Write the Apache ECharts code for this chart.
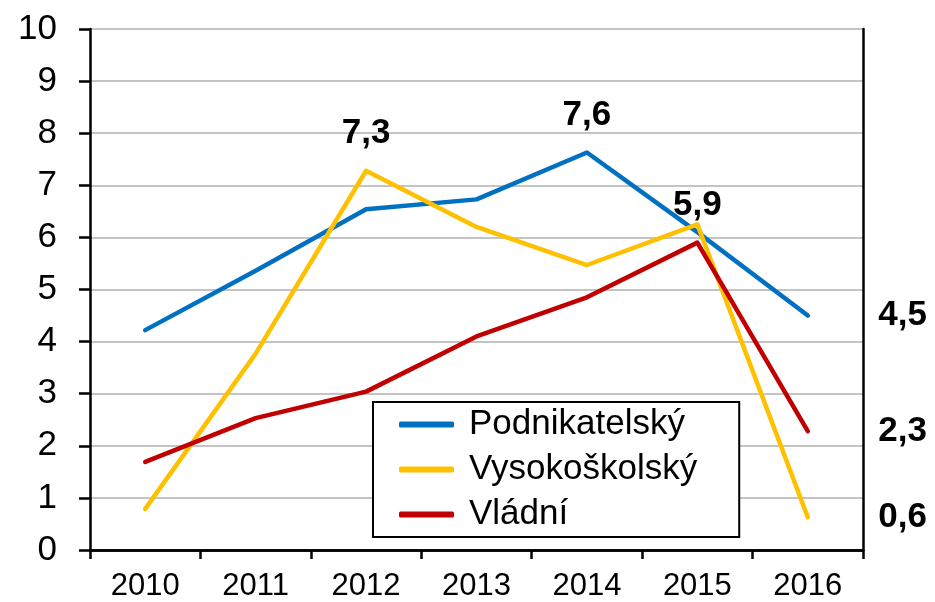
<!DOCTYPE html>
<html lang="cs">
<head>
  <meta charset="UTF-8" />
  <title>Podnikatelský, vysokoškolský a vládní sektor</title>
  <script src="https://cdn.jsdelivr.net/npm/echarts@6.0.0/dist/echarts.min.js"></script>
  <style>
    html, body { margin: 0; padding: 0; background: #fff; }
    #chart { width: 935px; height: 602px; }
  </style>
</head>
<body>
  <div id="chart"></div>
  <script>
    // data
    const years = ['2010', '2011', '2012', '2013', '2014', '2015', '2016'];
    const podnikatelsky = [4.22, 5.36, 6.54, 6.73, 7.63, 6.1, 4.5];
    const vysokoskolsky = [0.79, 3.77, 7.28, 6.2, 5.47, 6.25, 0.63];
    const vladni = [1.69, 2.53, 3.04, 4.1, 4.85, 5.9, 2.28];
    // which points carry a value label
    const labeledPodnik = [4, 6];
    const labeledVysoko = [2, 6];
    const labeledVladni = [5, 6];

    const font = '"Liberation Sans", Arial, sans-serif';
    const chart = echarts.init(document.getElementById('chart'));

    function fmt(v) {
      return v.toFixed(1).replace('.', ',');
    }

    function buildData(values, labeled) {
      return values.map(function (v, i) {
        if (labeled.indexOf(i) < 0) return v;
        const last = i === values.length - 1;
        return {
          value: v,
          label: {
            show: true,
            position: last ? 'right' : 'top',
            distance: last ? 70 : 19,
            formatter: function (p) { return fmt(p.value); },
            color: '#000',
            fontFamily: font,
            fontWeight: 'bold',
            fontSize: 35
          }
        };
      });
    }

    function lineSeries(name, color, values, labeled) {
      return {
        name: name,
        type: 'line',
        data: buildData(values, labeled),
        symbol: 'circle',
        symbolSize: 1,
        showSymbol: true,
        itemStyle: { color: color },
        lineStyle: { color: color, width: 4.5, cap: 'round', join: 'round' },
        label: { show: false },
        emphasis: { disabled: true },
        animation: false
      };
    }

    const blackLine = { color: '#000', width: 2.5 };

    const option = {
      backgroundColor: '#fff',
      grid: { left: 90, right: 72, top: 29, bottom: 52 },
      legend: {
        left: 373,
        top: 402,
        orient: 'vertical',
        data: ['Podnikatelský', 'Vysokoškolský', 'Vládní'],
        icon: 'roundRect',
        itemWidth: 55,
        itemHeight: 6,
        itemGap: 10,
        padding: [5, 42, 5, 26],
        borderColor: '#000',
        borderWidth: 2,
        backgroundColor: '#fff',
        textStyle: {
          fontFamily: font,
          fontSize: 35,
          lineHeight: 34,
          color: '#000',
          padding: [0, 0, 0, 10]
        }
      },
      xAxis: [
        {
          type: 'category',
          data: years,
          boundaryGap: true,
          z: 5,
          axisLine: { lineStyle: blackLine },
          axisTick: { show: true, length: 9, lineStyle: blackLine },
          axisLabel: { fontFamily: font, fontSize: 31, color: '#000', margin: 21 },
          splitLine: { show: false }
        },
        {
          // top border of the plot area
          type: 'category',
          data: years,
          position: 'top',
          z: 5,
          axisLine: { lineStyle: blackLine },
          axisTick: { show: false },
          axisLabel: { show: false },
          splitLine: { show: false }
        }
      ],
      yAxis: [
        {
          type: 'value',
          min: 0,
          max: 10,
          interval: 1,
          axisLine: { show: true, lineStyle: blackLine },
          axisTick: { show: true, length: 11, lineStyle: blackLine },
          axisLabel: { fontFamily: font, fontSize: 35, color: '#000', margin: 33 },
          splitLine: { lineStyle: { color: '#c4c4c4', width: 2 } }
        },
        {
          // right border of the plot area
          type: 'value',
          min: 0,
          max: 10,
          interval: 1,
          position: 'right',
          z: 5,
          axisLine: { show: true, lineStyle: blackLine },
          axisTick: { show: false },
          axisLabel: { show: false },
          splitLine: { show: false }
        }
      ],
      series: [
        lineSeries('Podnikatelský', '#0070C0', podnikatelsky, labeledPodnik),
        lineSeries('Vysokoškolský', '#FFC000', vysokoskolsky, labeledVysoko),
        lineSeries('Vládní', '#C00000', vladni, labeledVladni)
      ]
    };

    chart.setOption(option);
  </script>
</body>
</html>
